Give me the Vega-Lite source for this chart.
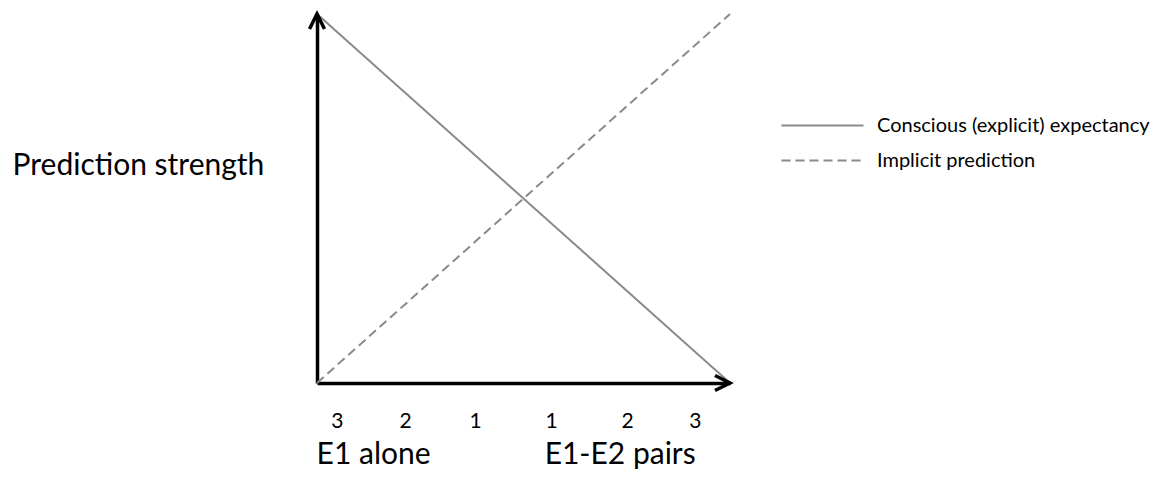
{
  "$schema": "https://vega.github.io/schema/vega-lite/v6.json",
  "width": 413,
  "height": 369,
  "autosize": {"type": "none"},
  "padding": {"left": 317, "top": 14, "right": 431, "bottom": 94},
  "background": "white",
  "config": {"view": {"stroke": null}, "font": "Lato"},
  "datasets": {
    "lines": [
      {"series": "Conscious (explicit) expectancy", "x": 0, "y": 1},
      {"series": "Conscious (explicit) expectancy", "x": 1, "y": 0},
      {"series": "Implicit prediction", "x": 0, "y": 0},
      {"series": "Implicit prediction", "x": 1, "y": 1}
    ],
    "labels": [
      {"text": "E1 alone", "x": 0.137},
      {"text": "E1-E2 pairs", "x": 0.734}
    ]
  },
  "layer": [
    {
      "data": {"name": "lines"},
      "mark": {"type": "line", "color": "#8a8a8a", "strokeWidth": 2},
      "encoding": {
        "x": {
          "field": "x", "type": "quantitative",
          "scale": {"domain": [0, 1], "nice": false, "zero": false},
          "axis": {
            "title": null, "grid": false, "ticks": false, "tickSize": 0,
            "values": [0.048, 0.213, 0.383, 0.567, 0.751, 0.915],
            "labelExpr": "datum.value < 0.1 ? '3' : datum.value < 0.3 ? '2' : datum.value < 0.5 ? '1' : datum.value < 0.6 ? '1' : datum.value < 0.8 ? '2' : '3'",
            "labelFlush": false, "labelOverlap": false,
            "labelFont": "Lato", "labelFontSize": 21, "labelColor": "#000000",
            "labelBaseline": "middle", "labelPadding": 38,
            "domainColor": "#000000", "domainWidth": 3.5
          }
        },
        "y": {
          "field": "y", "type": "quantitative",
          "scale": {"domain": [0, 1], "nice": false, "zero": false},
          "axis": {
            "grid": false, "ticks": false, "labels": false, "tickSize": 0,
            "domainColor": "#000000", "domainWidth": 3.5,
            "title": "Prediction strength", "titleAngle": 0, "titleAlign": "left",
            "titleBaseline": "middle", "titleX": -305, "titleY": 151,
            "titleFont": "Lato", "titleFontSize": 30, "titleFontWeight": "normal", "titleColor": "#000000"
          }
        },
        "detail": {"field": "series", "type": "nominal"},
        "strokeDash": {
          "field": "series", "type": "nominal",
          "scale": {"domain": ["Conscious (explicit) expectancy", "Implicit prediction"], "range": [[1, 0], [9, 5]]},
          "legend": {
            "title": null, "orient": "none", "legendX": 494, "legendY": 100,
            "symbolType": "M-4,0L4,0", "symbolSize": 420, "symbolStrokeWidth": 2,
            "symbolStrokeColor": "#8a8a8a", "symbolFillColor": "transparent",
            "labelOffset": 43, "labelLimit": 0,
            "labelFont": "Lato", "labelFontSize": 20, "labelColor": "#000000",
            "padding": 0, "rowPadding": 13
          }
        }
      }
    },
    {
      "data": {"values": [{"x": 1, "y": 0}]},
      "mark": {"type": "point", "shape": "M-1,-0.5L0,0L-1,0.5", "filled": false, "stroke": "#000000", "strokeWidth": 3.5, "size": 900, "opacity": 1, "angle": 0},
      "encoding": {
        "x": {"field": "x", "type": "quantitative"},
        "y": {"field": "y", "type": "quantitative"}
      }
    },
    {
      "data": {"values": [{"x": 0, "y": 1}]},
      "mark": {"type": "point", "shape": "M-1,-0.5L0,0L-1,0.5", "filled": false, "stroke": "#000000", "strokeWidth": 3.5, "size": 900, "opacity": 1, "angle": 270},
      "encoding": {
        "x": {"field": "x", "type": "quantitative"},
        "y": {"field": "y", "type": "quantitative"}
      }
    },
    {
      "data": {"name": "labels"},
      "mark": {"type": "text", "font": "Lato", "fontSize": 30, "color": "#000000", "align": "center", "baseline": "middle"},
      "encoding": {
        "x": {"field": "x", "type": "quantitative"},
        "y": {"datum": -0.195, "type": "quantitative"},
        "text": {"field": "text"}
      }
    }
  ]
}
